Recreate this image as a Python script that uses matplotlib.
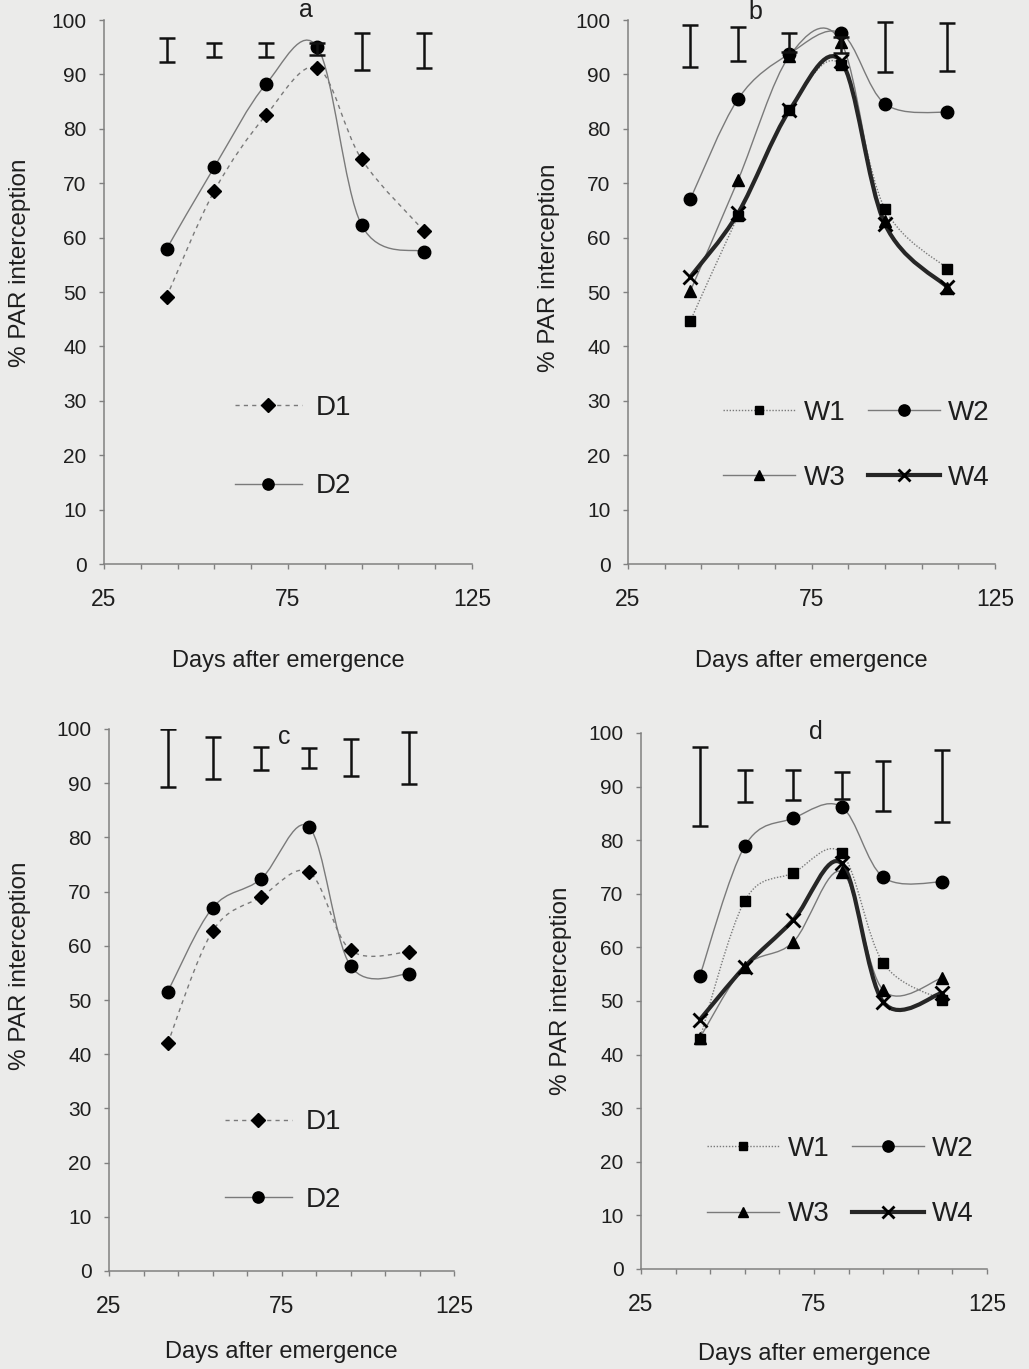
"""Four-panel figure: % PAR interception against days after emergence."""

import matplotlib

matplotlib.use("Agg")
import matplotlib.pyplot as plt
import numpy as np
from matplotlib.lines import Line2D
from matplotlib.patches import PathPatch
from matplotlib.path import Path

plt.rcParams["font.family"] = ["Liberation Sans", "DejaVu Sans"]

BG = "#ebebea"
INK = "#1e1e1e"
GREY = "#7a7a7a"

DAYS = [42, 55, 69, 83, 95, 112]
X_TICKS = [25, 35, 45, 55, 65, 75, 85, 95, 105, 115, 125]
X_TICK_LABELS = ["25", "", "", "", "", "75", "", "", "", "", "125"]
Y_TICKS = [0, 10, 20, 30, 40, 50, 60, 70, 80, 90, 100]

# panel a (D1 / D2)
A_D1 = [49.1, 68.6, 82.5, 91.2, 74.4, 61.2]
A_D2 = [57.9, 73.0, 88.2, 95.0, 62.3, 57.4]
A_LSD_MID = [94.5, 94.5, 94.5, 94.7, 94.2, 94.4]
A_LSD_HALF = [2.2, 1.3, 1.3, 1.1, 3.4, 3.2]

# panel b (W1..W4)
B_W1 = [44.7, 64.0, 83.5, 91.8, 65.3, 54.3]
B_W2 = [67.1, 85.5, 93.8, 97.6, 84.6, 83.0]
B_W3 = [50.2, 70.6, 93.4, 96.0, 63.0, 50.8]
B_W4 = [52.8, 64.5, 83.4, 92.5, 62.5, 50.9]
B_LSD_MID = [95.2, 95.6, 95.85, 95.4, 95.0, 95.05]
B_LSD_HALF = [3.8, 3.1, 1.75, 1.5, 4.6, 4.45]

# panel c (D1 / D2)
C_D1 = [42.0, 62.7, 69.0, 73.6, 59.2, 58.9]
C_D2 = [51.5, 67.0, 72.3, 81.9, 56.3, 54.8]
C_LSD_MID = [94.65, 94.65, 94.55, 94.65, 94.75, 94.65]
C_LSD_HALF = [5.35, 3.85, 2.15, 1.85, 3.45, 4.75]

# panel d (W1..W4)
D_W1 = [43.0, 68.7, 73.9, 77.6, 57.1, 50.2]
D_W2 = [54.7, 78.9, 84.1, 86.2, 73.1, 72.2]
D_W3 = [43.1, 56.4, 61.0, 74.1, 52.0, 54.3]
D_W4 = [46.5, 56.4, 65.1, 75.7, 49.8, 51.5]
D_LSD_MID = [90.0, 90.1, 90.3, 90.2, 90.1, 90.1]
D_LSD_HALF = [7.4, 3.0, 2.8, 2.5, 4.7, 6.7]

STYLES = {
    "D1": dict(color=GREY, ls=(0, (3, 3)), lw=1.0, marker="D", ms=7.5),
    "D2": dict(color=GREY, ls="-", lw=1.0, marker="o", ms=9),
    "W1": dict(color=GREY, ls=(0, (1, 1.2)), lw=1.0, marker="s", ms=7),
    "W2": dict(color=GREY, ls="-", lw=1.0, marker="o", ms=9),
    "W3": dict(color=GREY, ls="-", lw=1.0, marker="^", ms=8.5),
    "W4": dict(color="#262626", ls="-", lw=3.0, marker="x", ms=9.5),
}


def smooth_path(x, y):
    # Bezier segments with Catmull-Rom control points (spreadsheet "smoothed line")
    pts = np.column_stack([x, y]).astype(float)
    n = len(pts)
    verts = [pts[0]]
    codes = [Path.MOVETO]
    for i in range(n - 1):
        p0 = pts[i - 1] if i > 0 else pts[i]
        p1, p2 = pts[i], pts[i + 1]
        p3 = pts[i + 2] if i + 2 < n else pts[i + 1]
        verts += [p1 + (p2 - p0) / 6, p2 - (p3 - p1) / 6, p2]
        codes += [Path.CURVE4] * 3
    return Path(verts, codes)


def draw_series(ax, name, values):
    st = STYLES[name]
    ax.add_patch(PathPatch(smooth_path(DAYS, values), fill=False, edgecolor=st["color"],
                           linestyle=st["ls"], lw=st["lw"], zorder=2))
    mew = 2.0 if st["marker"] == "x" else 1.0
    ax.plot(DAYS, values, ls="none", marker=st["marker"], ms=st["ms"], mfc="k",
            mec="k", mew=mew, zorder=3)


def handle(name):
    st = STYLES[name]
    mew = 2.0 if st["marker"] == "x" else 1.0
    return Line2D([], [], color=st["color"], ls=st["ls"], lw=st["lw"], marker=st["marker"],
                  ms=st["ms"] * 0.9, mfc="k", mec="k", mew=mew)


def style_axes(ax, letter, letter_xy, ylabel_xy, xlabelpad):
    ax.set_facecolor("none")
    for side in ("top", "right"):
        ax.spines[side].set_visible(False)
    for side in ("left", "bottom"):
        ax.spines[side].set_color("#808080")
        ax.spines[side].set_linewidth(1.1)
    ax.set_xlim(25, 125)
    ax.set_ylim(0, 100)
    ax.set_xticks(X_TICKS)
    ax.set_xticklabels(X_TICK_LABELS)
    ax.set_yticks(Y_TICKS)
    ax.tick_params(axis="x", direction="out", length=3.5, width=1, color="#808080",
                   pad=14, labelsize=16.5, labelcolor=INK)
    ax.tick_params(axis="y", direction="out", length=3.5, width=1, color="#808080",
                   pad=9, labelsize=15, labelcolor=INK)
    ax.set_xlabel("Days after emergence", fontsize=17, color=INK, labelpad=xlabelpad)
    ax.set_ylabel("% PAR interception", fontsize=17.5, color=INK)
    ax.yaxis.set_label_coords(*ylabel_xy)
    ax.text(letter_xy[0], letter_xy[1], letter, transform=ax.transAxes, fontsize=18,
            color=INK, ha="center", va="center")


def draw_lsd(ax, mid, half):
    ax.errorbar(DAYS, mid, yerr=half, fmt="none", ecolor="#111111", elinewidth=1.8,
                capsize=5.5, capthick=1.8, zorder=4)


fig = plt.figure(figsize=(10.29, 13.69), dpi=100, facecolor=BG)
W, H = 1029, 1369


def add_axes(left, top, right, bottom):
    return fig.add_axes([left / W, 1 - bottom / H, (right - left) / W, (bottom - top) / H])


# panel a
ax = add_axes(104, 20, 472, 564)
draw_lsd(ax, A_LSD_MID, A_LSD_HALF)
draw_series(ax, "D1", A_D1)
draw_series(ax, "D2", A_D2)
style_axes(ax, "a", (0.549, 1.018), (-0.198, 0.553), 28)
ax.legend([handle("D1"), handle("D2")], ["D1", "D2"], loc="center left",
          bbox_to_anchor=(0.356, 0.215), frameon=False, fontsize=20, handlelength=2.4,
          handletextpad=0.5, labelspacing=1.9, borderpad=0, borderaxespad=0,
          labelcolor=INK)

# panel b
ax = add_axes(628, 20, 995, 564)
draw_lsd(ax, B_LSD_MID, B_LSD_HALF)
for name, vals in (("W1", B_W1), ("W3", B_W3), ("W2", B_W2), ("W4", B_W4)):
    draw_series(ax, name, vals)
style_axes(ax, "b", (0.346, 1.015), (-0.185, 0.545), 28)
ax.legend([handle("W1"), handle("W3"), handle("W2"), handle("W4")],
          ["W1", "W3", "W2", "W4"], ncol=2, loc="center left",
          bbox_to_anchor=(0.259, 0.218), frameon=False, fontsize=20, handlelength=2.6,
          handletextpad=0.3, columnspacing=0.8, labelspacing=1.4, borderpad=0,
          borderaxespad=0, labelcolor=INK)

# panel c
ax = add_axes(109, 729, 454, 1271)
draw_lsd(ax, C_LSD_MID, C_LSD_HALF)
draw_series(ax, "D1", C_D1)
draw_series(ax, "D2", C_D2)
style_axes(ax, "c", (0.507, 0.985), (-0.226, 0.563), 16)
ax.legend([handle("D1"), handle("D2")], ["D1", "D2"], loc="center left",
          bbox_to_anchor=(0.336, 0.203), frameon=False, fontsize=20, handlelength=2.4,
          handletextpad=0.5, labelspacing=1.85, borderpad=0, borderaxespad=0,
          labelcolor=INK)

# panel d
ax = add_axes(641, 733, 987, 1269)
draw_lsd(ax, D_LSD_MID, D_LSD_HALF)
for name, vals in (("W1", D_W1), ("W3", D_W3), ("W2", D_W2), ("W4", D_W4)):
    draw_series(ax, name, vals)
style_axes(ax, "d", (0.506, 1.002), (-0.2, 0.52), 19)
ax.legend([handle("W1"), handle("W3"), handle("W2"), handle("W4")],
          ["W1", "W3", "W2", "W4"], ncol=2, loc="center left",
          bbox_to_anchor=(0.191, 0.163), frameon=False, fontsize=20, handlelength=2.6,
          handletextpad=0.3, columnspacing=0.8, labelspacing=1.42, borderpad=0,
          borderaxespad=0, labelcolor=INK)

fig.savefig("out.png", dpi=100, facecolor=BG)
